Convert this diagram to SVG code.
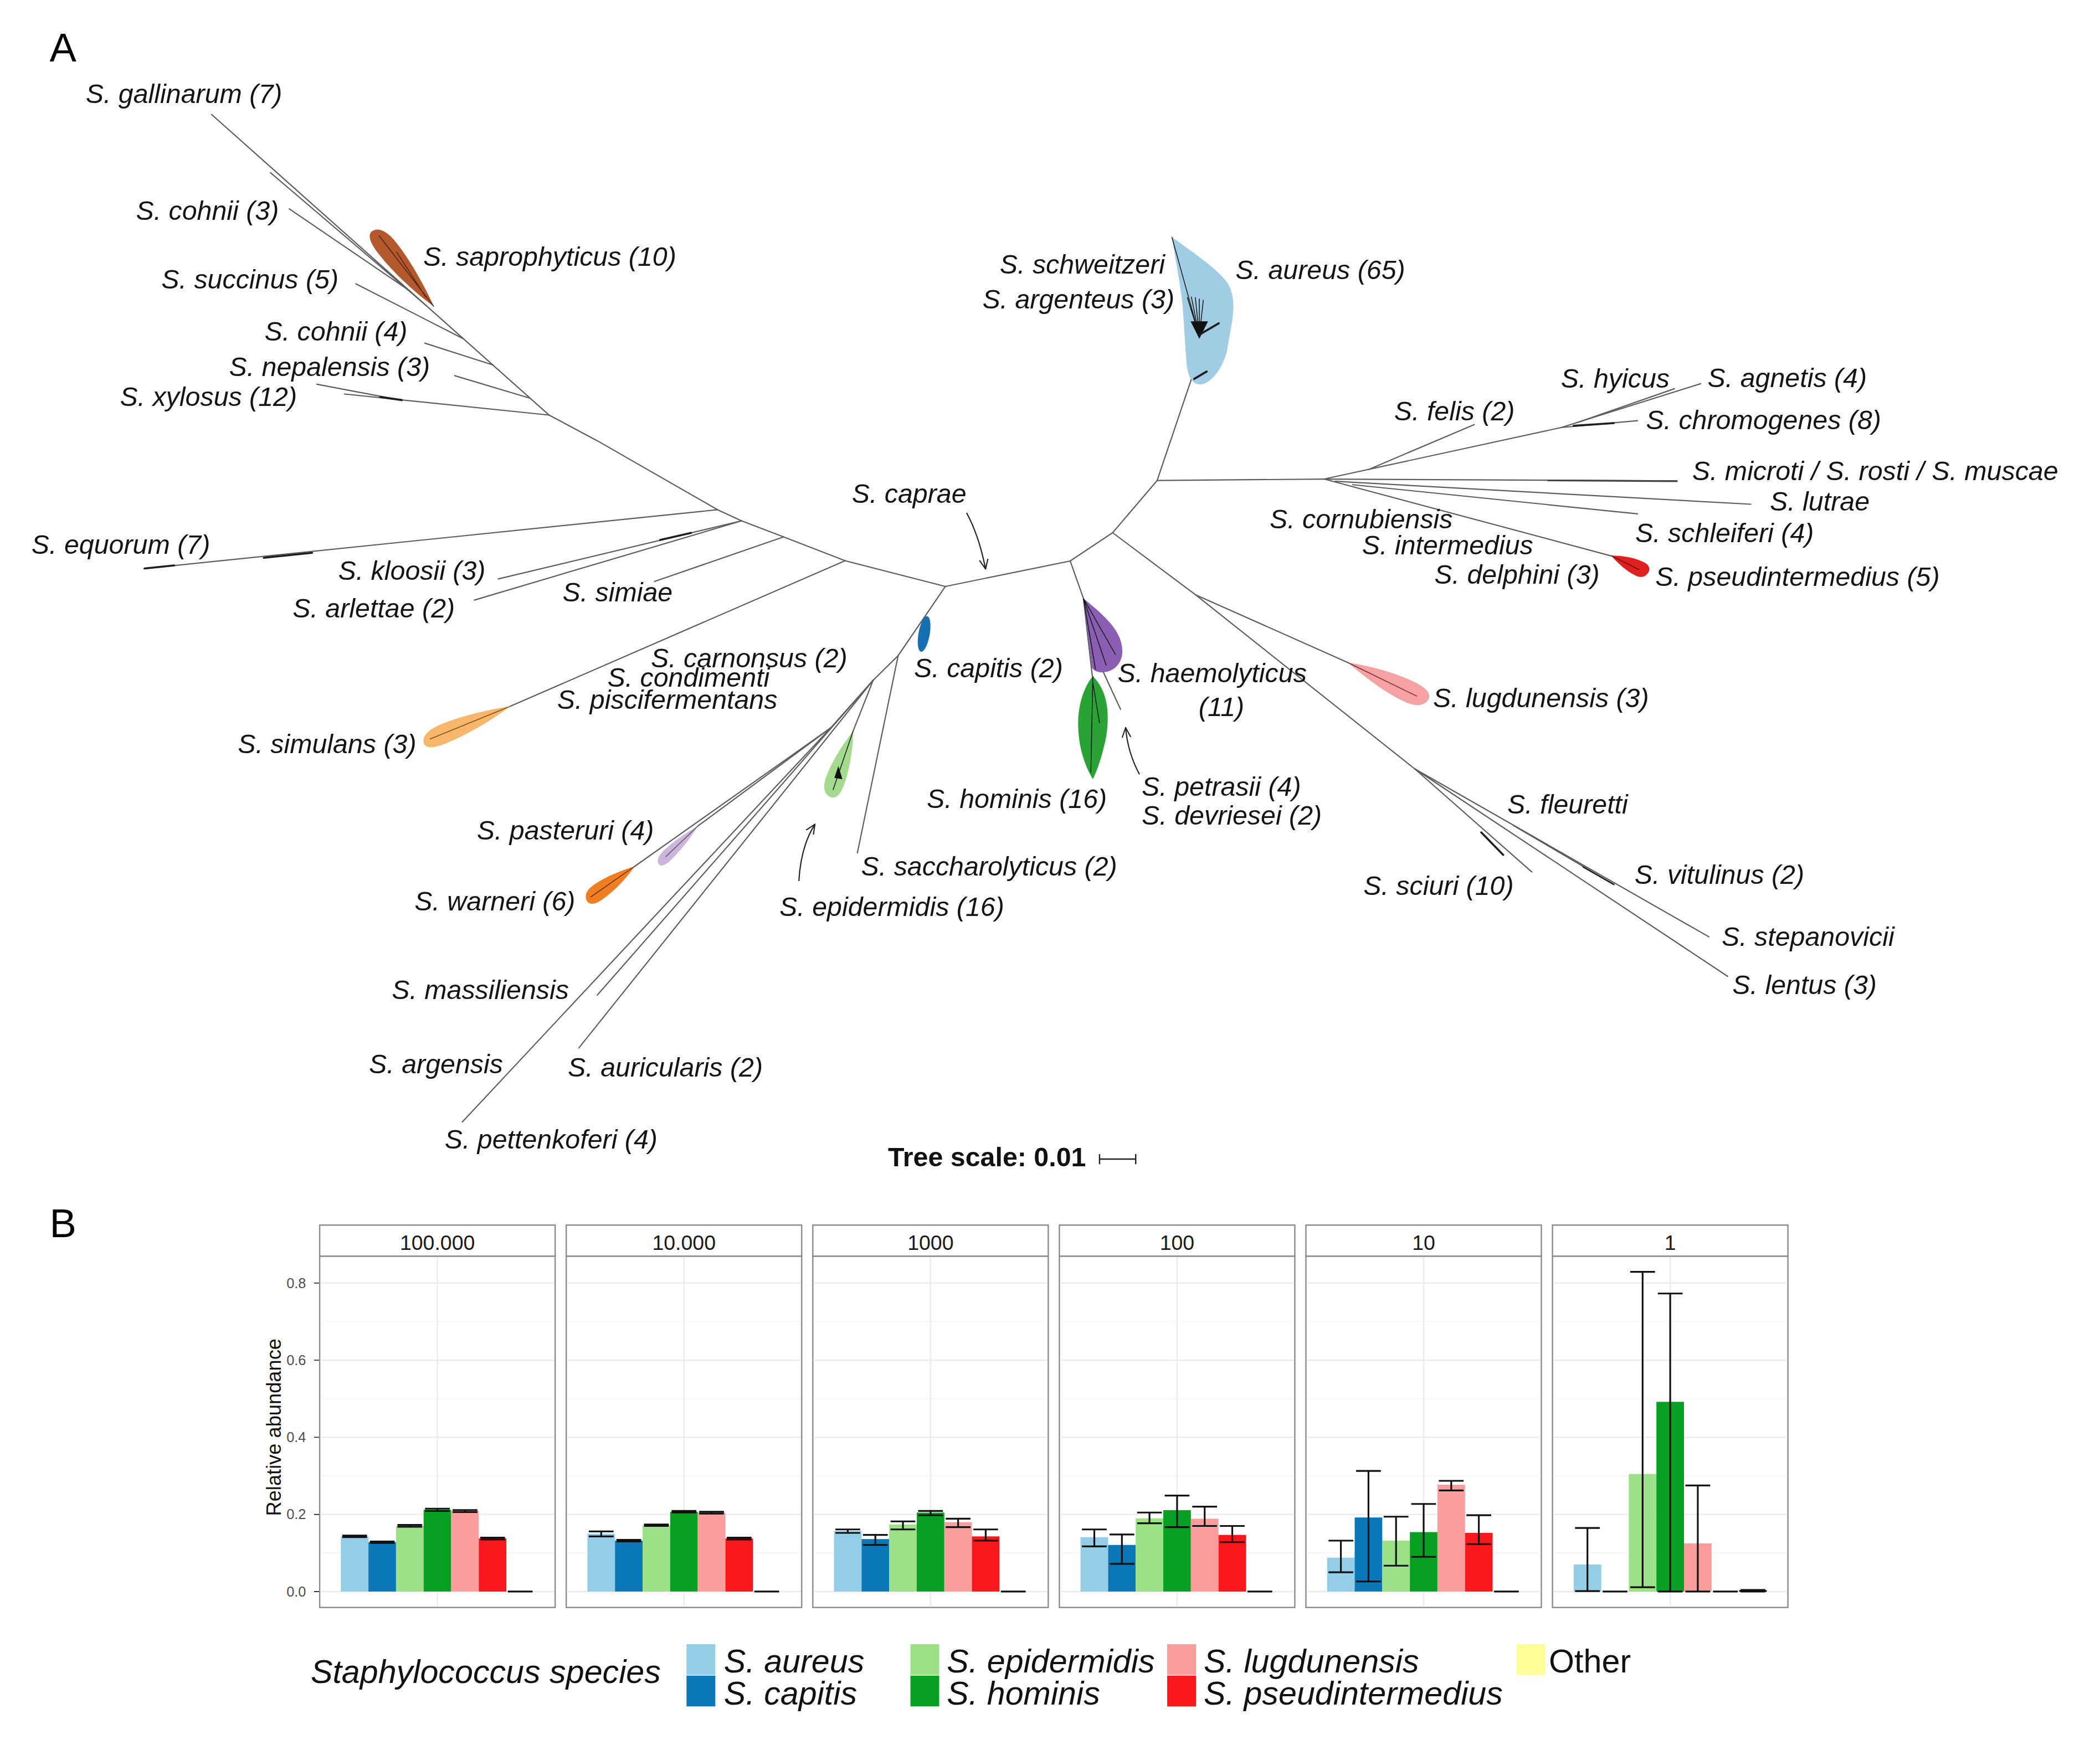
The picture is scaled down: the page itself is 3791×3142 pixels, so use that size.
<svg xmlns="http://www.w3.org/2000/svg" width="3791" height="3142" viewBox="0 0 3791 3142">
<defs>
<style>
.l{font-family:"Liberation Sans",Arial,Helvetica,sans-serif;font-style:italic;font-size:20px;fill:#141414}
.br{stroke:#5c5c5c;stroke-width:0.9;fill:none;stroke-linecap:round}
.dk{stroke:#1e1e1e;stroke-width:1.5;fill:none;stroke-linecap:round}
.fi{stroke:#111;stroke-width:0.6;fill:none}
.ar{stroke:#222;stroke-width:0.9;fill:none;marker-end:url(#ah)}
.pl{font-family:"Liberation Sans",Arial,sans-serif;font-size:30px;fill:#000}
.pn{fill:#fff;stroke:#8c8c8c;stroke-width:1}
.st{fill:#fff;stroke:#8c8c8c;stroke-width:1}
.gM{stroke:#ebebeb;stroke-width:1}
.gm{stroke:#f4f4f4;stroke-width:0.6}
.sx{font-family:"Liberation Sans",Arial,sans-serif;font-size:15.5px;fill:#1a1a1a;text-anchor:middle}
.yt{font-family:"Liberation Sans",Arial,sans-serif;font-size:10.5px;fill:#4d4d4d;text-anchor:end}
.eb{stroke:#111;stroke-width:1.3;fill:none}
.lg{font-family:"Liberation Sans",Arial,sans-serif;font-style:italic;font-size:24.5px;fill:#111}
.cA{fill:#93cde6}.cC{fill:#0a77b7}.cE{fill:#9ce088}.cH{fill:#08a023}.cL{fill:#fb9d9c}.cP{fill:#f8181c}.cO{fill:#ffff99}
</style>
<path id="leaf" d="M0,0 C0.2,-0.25 0.5,-0.5 0.78,-0.5 C0.95,-0.5 1.02,-0.3 1,0 C0.98,0.3 0.9,0.47 0.75,0.47 C0.5,0.47 0.2,0.22 0,0 Z"/>
<marker id="ah" viewBox="0 0 10 10" refX="9.5" refY="5" markerWidth="8" markerHeight="8" orient="auto" markerUnits="userSpaceOnUse"><path d="M0.5,1 L9.5,5 L0.5,9" fill="none" stroke="#222" stroke-width="1.1"/></marker>
</defs>
<rect width="3791" height="3142" fill="#fff"/>
<g transform="scale(2.4177)">
<text class="pl" x="37" y="46">A</text>
<text class="pl" x="37" y="924">B</text>

<g id="connectors">
<path class="br" d="M705.9,438 L631,418.8 L585.1,401 L553.7,389 L535.8,380.7 L445.8,329.1 L410,310 L158,85.5"/>
<path class="br" d="M202,129 L318,228"/>
<path class="br" d="M216,156 L306,217.3"/>
<path class="br" d="M265.7,212 L346,253"/>
<path class="br" d="M317.2,256.3 L368,272.6"/>
<path class="br" d="M339.5,280.6 L396,297.5"/>
<path class="br" d="M257.2,294.3 L410,310 M236.6,287 L300,299"/>
<path class="dk" d="M284,296.5 L300,298.8"/>
<path class="br" d="M535.8,380.7 L107.6,424.7"/>
<path class="dk" d="M197,416.6 L233,412.9 M108,424.6 L130,422.3"/>
<path class="br" d="M553.7,389 L372.1,432.4"/>
<path class="dk" d="M493,403.3 L516,398"/>
<path class="br" d="M553.7,389 L354.2,448.2"/>
<path class="br" d="M585.1,401 L488.7,434.3"/>
<path class="br" d="M631,418.8 L381,527.5"/>
<path class="br" d="M705.9,438 L670.6,489.7 L652,508 L620.4,543.5"/>
<path class="br" d="M670.6,489.7 L640.2,637"/>
<path class="br" d="M652,508 L637,546"/>
<path class="br" d="M652,508 L446,743.2"/>
<path class="br" d="M652,508 L432.2,782.7"/>
<path class="br" d="M620.4,543.5 L521,617"/>
<path class="br" d="M620.4,543.5 L474,647"/>
<path class="br" d="M620.4,543.5 L345.2,838"/>
<path class="br" d="M705.9,438 L799.1,419 L830.8,397.9 L864,358.9 L889.3,284 L895.5,251"/>
<path class="br" d="M864,358.9 L988.7,357.8"/>
<path class="br" d="M830.8,397.9 L892.6,444.2 L1056.3,574.2"/>
<path class="br" d="M892.6,444.2 L1006.7,495"/>
<path class="br" d="M799.1,419 L809,447 L815.6,505"/>
<path class="br" d="M822,498 L836.7,529.8"/>
<path class="br" d="M988.7,357.8 L1165.7,319.3 L1269.8,286.6"/>
<path class="br" d="M1022,350.6 L1100.8,317.1"/>
<path class="br" d="M1165.7,319.3 L1222.7,314.2"/>
<path class="dk" d="M1175,318 L1205,316"/>
<path class="br" d="M1178,315.5 L1250.3,290.3"/>
<path class="br" d="M988.7,357.8 L1252.2,359.2"/>
<path class="dk" d="M1156,358.8 L1252,359.4" style="stroke:#444;stroke-width:1.3"/>
<path class="br" d="M997,359.5 L1307.3,376.6"/>
<path class="br" d="M1010,362 L1222.7,383.8"/>
<path class="br" d="M988.7,357.8 L1203,415.2"/>
<path class="br" d="M1056.3,574.2 L1143.7,651.2"/>
<path class="dk" d="M1106,621.7 L1122.4,638.5"/>
<path class="br" d="M1056.3,574.2 L1290,729.2"/>
<path class="br" d="M1056.3,574.2 L1276,699.7"/>
<path class="br" d="M1130,616.5 L1205,660.6"/>
<path class="dk" d="M1182,647.5 L1205,660.6" style="stroke-width:1"/>
<path class="ar" d="M721.7,383 Q731,400 735.9,425"/>
<path class="ar" d="M596.5,658 Q598,632 608.5,615.6"/>
<path class="ar" d="M850.8,578.3 Q842,562 840.5,543.5"/>
</g>

<g id="n-gallinarum"><text class="l" x="64" y="77">S. gallinarum (7)</text></g>
<g id="n-cohnii3"><text class="l" x="101.5" y="164">S. cohnii (3)</text></g>
<g id="n-saprophyticus"><use href="#leaf" fill="#b4592c" transform="translate(324,229) rotate(-128.3) scale(72.6,16)"/><path class="fi" d="M324,229 L283,176 M318,222 L296,188" style="stroke:#4a2010"/><text class="l" x="316" y="198.5">S. saprophyticus (10)</text></g>
<g id="n-succinus"><text class="l" x="120.5" y="215.5">S. succinus (5)</text></g>
<g id="n-cohnii4"><text class="l" x="197.5" y="254.5">S. cohnii (4)</text></g>
<g id="n-nepalensis"><text class="l" x="171" y="281">S. nepalensis (3)</text></g>
<g id="n-xylosus"><text class="l" x="89.5" y="303">S. xylosus (12)</text></g>
<g id="n-equorum"><text class="l" x="23.5" y="413.5">S. equorum (7)</text></g>
<g id="n-kloosii"><text class="l" x="252.5" y="433">S. kloosii (3)</text></g>
<g id="n-arlettae"><text class="l" x="218.5" y="461">S. arlettae (2)</text></g>
<g id="n-simiae"><text class="l" x="420" y="449">S. simiae</text></g>
<g id="n-carnonsus"><text class="l" x="486" y="498.5">S. carnonsus (2)</text></g>
<g id="n-condimenti"><text class="l" x="453.5" y="513">S. condimenti</text></g>
<g id="n-piscifermentans"><text class="l" x="416" y="529.5">S. piscifermentans</text></g>
<g id="n-simulans"><use href="#leaf" fill="#f8b66b" transform="translate(381,527.5) rotate(157.8) scale(70,15)"/><path class="fi" d="M381,527.5 L321,552" style="stroke:#6a4010"/><text class="l" x="177.5" y="562.5">S. simulans (3)</text></g>
<g id="n-caprae"><text class="l" x="636" y="375.5">S. caprae</text></g>
<g id="n-capitis"><ellipse cx="690" cy="473.5" rx="4.2" ry="13.5" fill="#1470b0" transform="rotate(10 690 473.5)"/><text class="l" x="682.5" y="506">S. capitis (2)</text></g>
<g id="n-haemolyticus"><path d="M809,447 C825,460 839,472 838,488 C837,498 829,503 821,502 C816,501 815,499 815,496 L809,447 Z" fill="#8a5fb3"/><path class="fi" d="M809,447 L818,500 M809,447 L826,497 M809,447 L833,489"/><text class="l" x="834.5" y="509.5">S. haemolyticus</text><text class="l" x="895" y="535">(11)</text></g>
<g id="n-hominis"><path d="M816,505 C826,515 829,530 826,550 C823,565 819,576 816,582 C810,572 805,558 805,540 C805,525 810,512 816,505 Z" fill="#2ba235"/><path class="fi" d="M816,505 L814.5,577 M816,510 L821,540"/><text class="l" x="692" y="603.5">S. hominis (16)</text></g>
<g id="n-petrasii"><text class="l" x="852.5" y="594.5">S. petrasii (4)</text><text class="l" x="852.5" y="616">S. devriesei (2)</text></g>
<g id="n-pasteruri"><use href="#leaf" fill="#cbb5dc" transform="translate(521,617) rotate(136.4) scale(40.6,9)"/><path class="fi" d="M521,617 L497,640" style="stroke:#555"/><text class="l" x="356" y="627">S. pasteruri (4)</text></g>
<g id="n-warneri"><use href="#leaf" fill="#f27e22" transform="translate(474,647) rotate(145.2) scale(44,13)"/><path class="fi" d="M474,647 L441,670" style="stroke:#5a2a05"/><text class="l" x="309.5" y="680">S. warneri (6)</text></g>
<g id="n-saccharolyticus"><text class="l" x="643" y="654">S. saccharolyticus (2)</text></g>
<g id="n-epidermidis"><use href="#leaf" fill="#a3da8e" transform="translate(637,546) rotate(110.2) scale(52,15)"/><path class="fi" d="M637,546 L622,590"/><path d="M626,572 L629,582 L623,581 Z" fill="#111"/><text class="l" x="582" y="684">S. epidermidis (16)</text></g>
<g id="n-massiliensis"><text class="l" x="292.5" y="746">S. massiliensis</text></g>
<g id="n-argensis"><text class="l" x="275.5" y="801.5">S. argensis</text></g>
<g id="n-auricularis"><text class="l" x="424" y="804">S. auricularis (2)</text></g>
<g id="n-pettenkoferi"><text class="l" x="332" y="858">S. pettenkoferi (4)</text></g>
<g id="n-aureus"><path d="M875,177 C890,188 905,198 914,208 C921,216 922,226 920,240 L916,263 C912,277 903,288 895,287 C889,286 887,280 886,272 L883,228 C881,210 877,190 875,177 Z" fill="#a0cde3"/><path class="fi" d="M875,177 L895.5,251 M895.5,251 L886.5,222 M895.5,251 L889.5,221.5 M895.5,251 L892.5,222 M895.5,251 L895.5,223 M895.5,251 L898.5,224"/><path d="M889,240 L902,240 L895.5,253 Z" fill="#111"/><path class="dk" d="M895.5,250 L910,241.5 M891.7,283 L901,277.5" style="stroke-width:1.6"/><text class="l" x="746.5" y="204.5">S. schweitzeri</text><text class="l" x="733.5" y="230.5">S. argenteus (3)</text><text class="l" x="922.5" y="208.5">S. aureus (65)</text></g>
<g id="n-felis"><text class="l" x="1041" y="314">S. felis (2)</text></g>
<g id="n-hyicus"><text class="l" x="1165.5" y="289.5">S. hyicus</text></g>
<g id="n-agnetis"><text class="l" x="1275" y="289">S. agnetis (4)</text></g>
<g id="n-chromogenes"><text class="l" x="1229" y="320.5">S. chromogenes (8)</text></g>
<g id="n-microti"><text class="l" x="1263.5" y="358.5">S. microti / S. rosti / S. muscae</text></g>
<g id="n-lutrae"><text class="l" x="1321.5" y="381.5">S. lutrae</text></g>
<g id="n-cornubiensis"><text class="l" x="948" y="394.5">S. cornubiensis</text></g>
<g id="n-intermedius"><text class="l" x="1017" y="414">S. intermedius</text></g>
<g id="n-schleiferi"><text class="l" x="1221" y="405">S. schleiferi (4)</text></g>
<g id="n-delphini"><text class="l" x="1071" y="436">S. delphini (3)</text></g>
<g id="n-pseudintermedius"><use href="#leaf" fill="#e0201e" transform="translate(1203,415) rotate(25.3) scale(30.4,12)"/><path class="fi" d="M1203,415 L1224,425.5" style="stroke:#5a0808"/><text class="l" x="1236" y="437.5">S. pseudintermedius (5)</text></g>
<g id="n-lugdunensis"><use href="#leaf" fill="#f6a2a2" transform="translate(1006.7,495) rotate(25.7) scale(65.6,17)"/><path class="fi" d="M1006.7,495 L1058,520" style="stroke:#6a2a2a"/><text class="l" x="1070" y="528">S. lugdunensis (3)</text></g>
<g id="n-fleuretti"><text class="l" x="1125.5" y="607.5">S. fleuretti</text></g>
<g id="n-vitulinus"><text class="l" x="1220.5" y="660">S. vitulinus (2)</text></g>
<g id="n-sciuri"><text class="l" x="1018" y="668.5">S. sciuri (10)</text></g>
<g id="n-stepanovicii"><text class="l" x="1285.5" y="706.5">S. stepanovicii</text></g>
<g id="n-lentus"><text class="l" x="1293.5" y="742.5">S. lentus (3)</text></g>
<g id="tree-scale"><text x="663" y="871" style="font-family:'Liberation Sans',Arial,sans-serif;font-weight:bold;font-size:20px;fill:#111">Tree scale: 0.01</text><path d="M821,865.7 H848 M821,862 V869.5 M848,862 V869.5" stroke="#222" stroke-width="1" fill="none"/></g>

<g id="y-axis">
<text class="yt" x="228.5" y="1192.3">0.0</text>
<text class="yt" x="228.5" y="1134.7">0.2</text>
<text class="yt" x="228.5" y="1077.1">0.4</text>
<text class="yt" x="228.5" y="1019.5">0.6</text>
<text class="yt" x="228.5" y="961.9">0.8</text>
<path d="M234.5,1188.7H238.7M234.5,1131.1H238.7M234.5,1073.5H238.7M234.5,1015.9H238.7M234.5,958.3H238.7" stroke="#333" stroke-width="0.8"/>
<text transform="translate(209.5,1066) rotate(-90)" text-anchor="middle" style="font-family:'Liberation Sans',Arial,sans-serif;font-size:15px;fill:#111">Relative abundance</text>
</g>

<g id="panel-100000" transform="translate(326.6,0)">
<rect class="pn" x="-87.9" y="938.2" width="175.8" height="262.4"/>
<path class="gm" d="M-87.4,1159.9H87.4M-87.4,1102.3H87.4M-87.4,1044.7H87.4M-87.4,987.1H87.4"/>
<path class="gM" d="M-87.4,1188.7H87.4M-87.4,1131.1H87.4M-87.4,1073.5H87.4M-87.4,1015.9H87.4M-87.4,958.3H87.4M0,938.7V1200.1"/>
<rect class="st" x="-87.9" y="915" width="175.8" height="23.2"/><text class="sx" x="0" y="933.5">100.000</text>
<rect class="cA" x="-72.1" y="1147.5" width="20.6" height="41.2"/><rect class="cC" x="-51.5" y="1151.8" width="20.6" height="36.9"/><rect class="cE" x="-30.9" y="1139.7" width="20.6" height="49"/><rect class="cH" x="-10.3" y="1127.6" width="20.6" height="61.1"/><rect class="cL" x="10.3" y="1128.5" width="20.6" height="60.2"/><rect class="cP" x="30.9" y="1149" width="20.6" height="39.7"/>
<path class="eb" d="M-71.05,1146.9h18.5M-61.8,1146.9V1148.1M-71.05,1148.1h18.5 M-50.45,1151.3h18.5M-41.2,1151.3V1152.4M-50.45,1152.4h18.5 M-29.85,1138.9h18.5M-20.6,1138.9V1140.3M-29.85,1140.3h18.5 M-9.25,1126.8h18.5M0,1126.8V1128.5M-9.25,1128.5h18.5 M11.35,1127.9h18.5M20.6,1127.9V1129.4M11.35,1129.4h18.5 M31.95,1148.4h18.5M41.2,1148.4V1149.8M31.95,1149.8h18.5 M52.55,1188.7h18.5"/>
</g>

<g id="panel-10000" transform="translate(510.7,0)">
<rect class="pn" x="-87.9" y="938.2" width="175.8" height="262.4"/>
<path class="gm" d="M-87.4,1159.9H87.4M-87.4,1102.3H87.4M-87.4,1044.7H87.4M-87.4,987.1H87.4"/>
<path class="gM" d="M-87.4,1188.7H87.4M-87.4,1131.1H87.4M-87.4,1073.5H87.4M-87.4,1015.9H87.4M-87.4,958.3H87.4M0,938.7V1200.1"/>
<rect class="st" x="-87.9" y="915" width="175.8" height="23.2"/><text class="sx" x="0" y="933.5">10.000</text>
<rect class="cA" x="-72.1" y="1145.5" width="20.6" height="43.2"/><rect class="cC" x="-51.5" y="1150.7" width="20.6" height="38"/><rect class="cE" x="-30.9" y="1139.2" width="20.6" height="49.5"/><rect class="cH" x="-10.3" y="1129.1" width="20.6" height="59.6"/><rect class="cL" x="10.3" y="1129.7" width="20.6" height="59"/><rect class="cP" x="30.9" y="1149" width="20.6" height="39.7"/>
<path class="eb" d="M-71.05,1143.8h18.5M-61.8,1143.8V1147.5M-71.05,1147.5h18.5 M-50.45,1150.1h18.5M-41.2,1150.1V1151.3M-50.45,1151.3h18.5 M-29.85,1138.6h18.5M-20.6,1138.6V1139.7M-29.85,1139.7h18.5 M-9.25,1128.5h18.5M0,1128.5V1129.7M-9.25,1129.7h18.5 M11.35,1129.1h18.5M20.6,1129.1V1130.5M11.35,1130.5h18.5 M31.95,1148.4h18.5M41.2,1148.4V1149.8M31.95,1149.8h18.5 M52.55,1188.7h18.5"/>
</g>

<g id="panel-1000" transform="translate(694.8,0)">
<rect class="pn" x="-87.9" y="938.2" width="175.8" height="262.4"/>
<path class="gm" d="M-87.4,1159.9H87.4M-87.4,1102.3H87.4M-87.4,1044.7H87.4M-87.4,987.1H87.4"/>
<path class="gM" d="M-87.4,1188.7H87.4M-87.4,1131.1H87.4M-87.4,1073.5H87.4M-87.4,1015.9H87.4M-87.4,958.3H87.4M0,938.7V1200.1"/>
<rect class="st" x="-87.9" y="915" width="175.8" height="23.2"/><text class="sx" x="0" y="933.5">1000</text>
<rect class="cA" x="-72.1" y="1143.5" width="20.6" height="45.2"/><rect class="cC" x="-51.5" y="1149.5" width="20.6" height="39.2"/><rect class="cE" x="-30.9" y="1138.6" width="20.6" height="50.1"/><rect class="cH" x="-10.3" y="1129.7" width="20.6" height="59"/><rect class="cL" x="10.3" y="1136.9" width="20.6" height="51.8"/><rect class="cP" x="30.9" y="1147.5" width="20.6" height="41.2"/>
<path class="eb" d="M-71.05,1142.3h18.5M-61.8,1142.3V1144.9M-71.05,1144.9h18.5 M-50.45,1146.4h18.5M-41.2,1146.4V1153.9M-50.45,1153.9h18.5 M-29.85,1136.3h18.5M-20.6,1136.3V1142.3M-29.85,1142.3h18.5 M-9.25,1128.5h18.5M0,1128.5V1131.7M-9.25,1131.7h18.5 M11.35,1134.3h18.5M20.6,1134.3V1140.6M11.35,1140.6h18.5 M31.95,1142.3h18.5M41.2,1142.3V1150.7M31.95,1150.7h18.5 M52.55,1188.7h18.5"/>
</g>

<g id="panel-100" transform="translate(878.9,0)">
<rect class="pn" x="-87.9" y="938.2" width="175.8" height="262.4"/>
<path class="gm" d="M-87.4,1159.9H87.4M-87.4,1102.3H87.4M-87.4,1044.7H87.4M-87.4,987.1H87.4"/>
<path class="gM" d="M-87.4,1188.7H87.4M-87.4,1131.1H87.4M-87.4,1073.5H87.4M-87.4,1015.9H87.4M-87.4,958.3H87.4M0,938.7V1200.1"/>
<rect class="st" x="-87.9" y="915" width="175.8" height="23.2"/><text class="sx" x="0" y="933.5">100</text>
<rect class="cA" x="-72.1" y="1148.1" width="20.6" height="40.6"/><rect class="cC" x="-51.5" y="1153.9" width="20.6" height="34.8"/><rect class="cE" x="-30.9" y="1134" width="20.6" height="54.7"/><rect class="cH" x="-10.3" y="1127.9" width="20.6" height="60.8"/><rect class="cL" x="10.3" y="1134.3" width="20.6" height="54.4"/><rect class="cP" x="30.9" y="1146.4" width="20.6" height="42.3"/>
<path class="eb" d="M-71.05,1142.3h18.5M-61.8,1142.3V1155M-71.05,1155h18.5 M-50.45,1146.1h18.5M-41.2,1146.1V1168M-50.45,1168h18.5 M-29.85,1129.7h18.5M-20.6,1129.7V1137.7M-29.85,1137.7h18.5 M-9.25,1117h18.5M0,1117V1140.6M-9.25,1140.6h18.5 M11.35,1125.3h18.5M20.6,1125.3V1139.7M11.35,1139.7h18.5 M31.95,1139.7h18.5M41.2,1139.7V1151.8M31.95,1151.8h18.5 M52.55,1188.7h18.5"/>
</g>

<g id="panel-10" transform="translate(1063,0)">
<rect class="pn" x="-87.9" y="938.2" width="175.8" height="262.4"/>
<path class="gm" d="M-87.4,1159.9H87.4M-87.4,1102.3H87.4M-87.4,1044.7H87.4M-87.4,987.1H87.4"/>
<path class="gM" d="M-87.4,1188.7H87.4M-87.4,1131.1H87.4M-87.4,1073.5H87.4M-87.4,1015.9H87.4M-87.4,958.3H87.4M0,938.7V1200.1"/>
<rect class="st" x="-87.9" y="915" width="175.8" height="23.2"/><text class="sx" x="0" y="933.5">10</text>
<rect class="cA" x="-72.1" y="1163.4" width="20.6" height="25.3"/><rect class="cC" x="-51.5" y="1133.4" width="20.6" height="55.3"/><rect class="cE" x="-30.9" y="1150.7" width="20.6" height="38"/><rect class="cH" x="-10.3" y="1144.3" width="20.6" height="44.4"/><rect class="cL" x="10.3" y="1108.9" width="20.6" height="79.8"/><rect class="cP" x="30.9" y="1144.9" width="20.6" height="43.8"/>
<path class="eb" d="M-71.05,1150.7h18.5M-61.8,1150.7V1174.3M-71.05,1174.3h18.5 M-50.45,1098.6h18.5M-41.2,1098.6V1181.2M-50.45,1181.2h18.5 M-29.85,1132.8h18.5M-20.6,1132.8V1169.4M-29.85,1169.4h18.5 M-9.25,1123.3h18.5M0,1123.3V1162.8M-9.25,1162.8h18.5 M11.35,1106h18.5M20.6,1106V1113.2M11.35,1113.2h18.5 M31.95,1131.7h18.5M41.2,1131.7V1153.3M31.95,1153.3h18.5 M52.55,1188.7h18.5"/>
</g>

<g id="panel-1" transform="translate(1247.1,0)">
<rect class="pn" x="-87.9" y="938.2" width="175.8" height="262.4"/>
<path class="gm" d="M-87.4,1159.9H87.4M-87.4,1102.3H87.4M-87.4,1044.7H87.4M-87.4,987.1H87.4"/>
<path class="gM" d="M-87.4,1188.7H87.4M-87.4,1131.1H87.4M-87.4,1073.5H87.4M-87.4,1015.9H87.4M-87.4,958.3H87.4M0,938.7V1200.1"/>
<rect class="st" x="-87.9" y="915" width="175.8" height="23.2"/><text class="sx" x="0" y="933.5">1</text>
<rect class="cA" x="-72.1" y="1168.5" width="20.6" height="20.2"/><rect class="cE" x="-30.9" y="1100.9" width="20.6" height="87.8"/><rect class="cH" x="-10.3" y="1047" width="20.6" height="141.7"/><rect class="cL" x="10.3" y="1152.7" width="20.6" height="36"/><rect x="51.5" y="1187.6" width="20.6" height="1.3" fill="#111"/>
<path class="eb" d="M-71.05,1141.2h18.5M-61.8,1141.2V1188.4M-71.05,1188.4h18.5 M-50.45,1188.7h18.5 M-29.85,949.9h18.5M-20.6,949.9V1185.5M-29.85,1185.5h18.5 M-9.25,966.1h18.5M0,966.1V1188.7M-9.25,1188.7h18.5 M11.35,1109.5h18.5M20.6,1109.5V1188.7M11.35,1188.7h18.5 M31.95,1188.7h18.5 M52.55,1187.5h18.5M52.55,1188.7h18.5"/>
</g>

<g id="legend">
<text class="lg" x="232" y="1257">Staphylococcus species</text>
<rect class="cA" x="512.6" y="1228" width="21.5" height="23"/><rect class="cC" x="512.6" y="1251.5" width="21.5" height="23"/>
<rect class="cE" x="679.8" y="1228" width="21.5" height="23"/><rect class="cH" x="679.8" y="1251.5" width="21.5" height="23"/>
<rect class="cL" x="871.5" y="1228" width="21.5" height="23"/><rect class="cP" x="871.5" y="1251.5" width="21.5" height="23"/>
<rect class="cO" x="1132.5" y="1228" width="21.5" height="23"/>
<text class="lg" x="540.5" y="1249">S. aureus</text><text class="lg" x="540.5" y="1273">S. capitis</text>
<text class="lg" x="707" y="1249">S. epidermidis</text><text class="lg" x="707" y="1273">S. hominis</text>
<text class="lg" x="898.8" y="1249">S. lugdunensis</text><text class="lg" x="898.8" y="1273">S. pseudintermedius</text>
<text class="lg" x="1156.5" y="1249" style="font-style:normal">Other</text>
</g>
</g>
</svg>
